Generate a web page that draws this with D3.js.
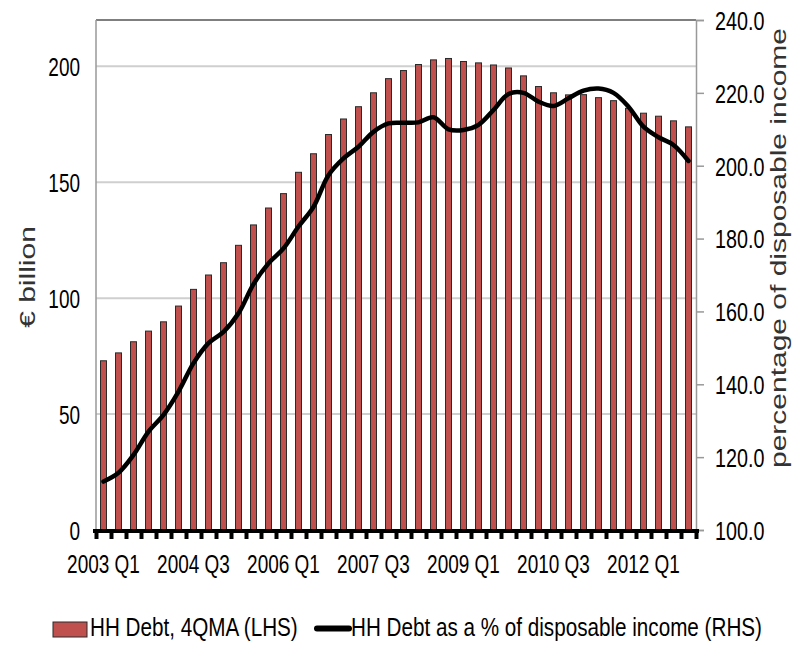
<!DOCTYPE html>
<html>
<head>
<meta charset="utf-8">
<script src="https://cdn.jsdelivr.net/npm/d3@7"></script>
<style>
  body { margin: 0; background: #fff; }
  svg { display: block; font-family: "Liberation Sans", Arial, sans-serif; }
</style>
</head>
<body>
<div id="chart"></div>
<script>
// quarters 2003 Q1 .. 2012 Q4
var years = [2003, 2004, 2005, 2006, 2007, 2008, 2009, 2010, 2011, 2012];
var quarterNames = ["Q1", "Q2", "Q3", "Q4"];
var quarters = [];
years.forEach(function (y) { quarterNames.forEach(function (q) { quarters.push(y + " " + q); }); });

var tickLabels = ["2003 Q1", "2004 Q3", "2006 Q1", "2007 Q3", "2009 Q1", "2010 Q3", "2012 Q1"];

// HH Debt, 4QMA (LHS), EUR billion
var debt = [73.0, 76.4, 81.2, 85.8, 89.8, 96.6, 103.8, 110.0, 115.3, 122.8,
  131.6, 138.9, 145.1, 154.3, 162.3, 170.6, 177.3, 182.6, 188.6, 194.7,
  198.2, 200.8, 202.8, 203.4, 202.1, 201.5, 200.6, 199.3, 195.9, 191.3,
  188.6, 187.7, 187.8, 186.5, 185.2, 181.9, 179.8, 178.5, 176.5, 173.9];

// HH Debt as a % of disposable income (RHS)
var ratio = [113.3, 115.7, 120.6, 127.0, 131.6, 138.0, 145.8, 151.3, 154.4, 159.5,
  167.5, 173.2, 177.3, 183.3, 188.7, 197.4, 202.0, 205.2, 209.3, 211.6,
  211.8, 211.9, 213.3, 210.0, 209.8, 211.2, 215.3, 219.7, 220.0, 217.6,
  216.4, 218.5, 220.6, 221.2, 220.0, 216.2, 210.7, 207.8, 205.7, 201.3];

var leftTicks = [0, 50, 100, 150, 200];
var rightTicks = [100, 120, 140, 160, 180, 200, 220, 240];

drawChart();

function drawChart() {
  var width = 800, height = 645;
  var pLeft = 96, pRight = 696, pTop = 20, pBottom = 530;
  var barColor = "#c0504d";
  var font = "Liberation Sans, Arial, sans-serif";

  var svg = d3.select("#chart").append("svg")
    .attr("width", width)
    .attr("height", height);

  var x = d3.scaleBand().domain(quarters).range([pLeft, pRight])
    .paddingInner(0.6).paddingOuter(0.3);
  var yL = d3.scaleLinear().domain([0, 220]).range([pBottom, pTop]);
  var yR = d3.scaleLinear().domain([100, 240]).range([pBottom, pTop]);

  // gridlines
  svg.append("g").selectAll("line")
    .data(leftTicks.filter(function (d) { return d > 0; }))
    .enter().append("line")
    .attr("x1", pLeft).attr("x2", pRight)
    .attr("y1", function (d) { return yL(d); })
    .attr("y2", function (d) { return yL(d); })
    .attr("stroke", "#cfcfcf").attr("stroke-width", 2);

  // plot frame
  svg.append("line").attr("x1", pLeft).attr("x2", pRight).attr("y1", pTop).attr("y2", pTop)
    .attr("stroke", "#555").attr("stroke-width", 1.5);
  svg.append("line").attr("x1", pLeft).attr("x2", pLeft).attr("y1", pTop).attr("y2", pBottom)
    .attr("stroke", "#999").attr("stroke-width", 1.5);

  // bars
  svg.append("g").selectAll("rect")
    .data(debt)
    .enter().append("rect")
    .attr("x", function (d, i) { return x(quarters[i]); })
    .attr("y", function (d) { return yL(d); })
    .attr("width", x.bandwidth())
    .attr("height", function (d) { return yL(0) - yL(d); })
    .attr("fill", barColor)
    .attr("stroke", "#2a2a2a")
    .attr("stroke-width", 1);

  // line
  var line = d3.line()
    .x(function (d, i) { return x(quarters[i]) + x.bandwidth() / 2; })
    .y(function (d) { return yR(d); })
    .curve(d3.curveCatmullRom.alpha(0.5));

  svg.append("path")
    .datum(ratio)
    .attr("d", line)
    .attr("fill", "none")
    .attr("stroke", "#000")
    .attr("stroke-width", 4.5)
    .attr("stroke-linejoin", "round")
    .attr("stroke-linecap", "round");

  // left axis
  var sx = 0.73;
  var gL = svg.append("g")
    .attr("transform", "translate(" + pLeft + ",0)")
    .call(d3.axisLeft(yL).tickValues(leftTicks).tickSize(0).tickPadding(0));
  gL.select(".domain").remove();
  gL.selectAll("text")
    .attr("x", -16 / sx)
    .attr("dy", "0.36em")
    .attr("transform", "scale(" + sx + ",1)")
    .style("font-size", "26px")
    .style("fill", "#000")
    .style("font-family", font);

  // right axis
  var gR = svg.append("g")
    .attr("transform", "translate(" + pRight + ",0)")
    .call(d3.axisRight(yR).tickValues(rightTicks).tickSize(8)
      .tickFormat(function (d) { return d3.format(".1f")(d); }));
  gR.select(".domain").attr("stroke", "#999").attr("stroke-width", 1.5);
  gR.selectAll(".tick line").attr("stroke", "#999").attr("stroke-width", 1.5);
  gR.selectAll("text")
    .attr("x", 19 / 0.76)
    .attr("dy", "0.36em")
    .attr("transform", "scale(0.76,1)")
    .style("font-size", "26px")
    .style("fill", "#000")
    .style("font-family", font);

  // x axis: tick marks between bars
  var bounds = d3.scaleLinear().domain([0, quarters.length]).range([pLeft, pRight]);
  var gT = svg.append("g")
    .attr("transform", "translate(0," + (pBottom + 1) + ")")
    .call(d3.axisBottom(bounds).ticks(quarters.length).tickSize(8).tickFormat(""));
  gT.select(".domain").attr("stroke", "#000").attr("stroke-width", 4)
    .attr("d", "M" + (pLeft - 3) + ",0H" + (pRight + 3));
  gT.selectAll(".tick line").attr("stroke", "#000").attr("stroke-width", 4);

  // x axis labels
  var gX = svg.append("g")
    .attr("transform", "translate(0," + pBottom + ")")
    .call(d3.axisBottom(x)
      .tickValues(quarters.filter(function (q) { return tickLabels.indexOf(q) >= 0; }))
      .tickSize(0));
  gX.select(".domain").remove();
  gX.selectAll("text")
    .attr("y", 43)
    .attr("dy", 0)
    .attr("transform", "scale(" + sx + ",1)")
    .style("font-size", "26px")
    .style("fill", "#000")
    .style("font-family", font);

  // axis titles
  svg.append("text")
    .attr("transform", "translate(35,277) scale(0.75,1) rotate(-90)")
    .attr("text-anchor", "middle")
    .style("font-size", "30px")
    .style("fill", "#333")
    .text("€ billion");

  svg.append("text")
    .attr("transform", "translate(786,248) scale(0.75,1) rotate(-90)")
    .attr("text-anchor", "middle")
    .style("font-size", "30px")
    .style("fill", "#333")
    .text("percentage of disposable income");

  // legend
  var lsx = 0.795;
  var leg = svg.append("g");
  leg.append("rect")
    .attr("x", 53).attr("y", 622).attr("width", 34).attr("height", 15)
    .attr("fill", barColor).attr("stroke", "#2a2a2a").attr("stroke-width", 1);
  leg.append("text")
    .attr("transform", "translate(90,636) scale(" + lsx + ",1)")
    .style("font-size", "26px")
    .style("fill", "#000")
    .text("HH Debt, 4QMA (LHS)");
  leg.append("line")
    .attr("x1", 317).attr("x2", 349).attr("y1", 628.5).attr("y2", 628.5)
    .attr("stroke", "#000").attr("stroke-width", 6).attr("stroke-linecap", "round");
  leg.append("text")
    .attr("transform", "translate(351,636) scale(" + lsx + ",1)")
    .style("font-size", "26px")
    .style("fill", "#000")
    .text("HH Debt as a % of disposable income (RHS)");
}
</script>
</body>
</html>
